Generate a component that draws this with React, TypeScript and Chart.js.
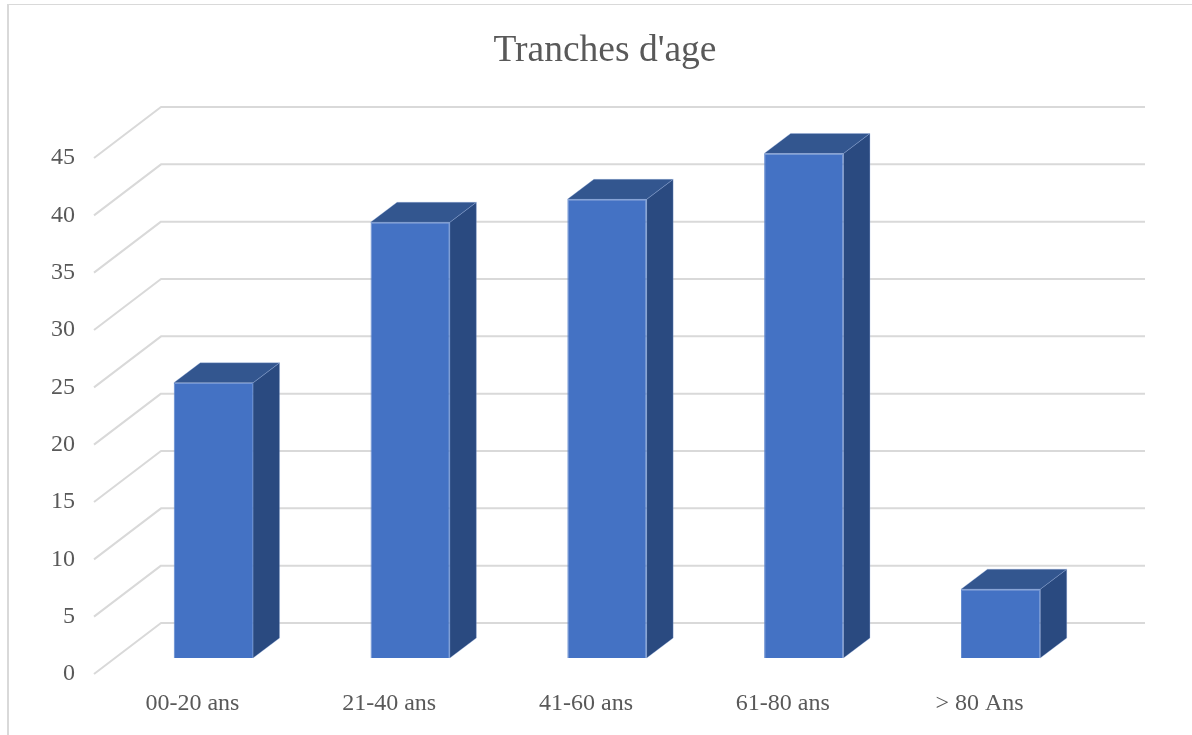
import React, { useEffect, useRef } from "react";
import { Chart, registerables } from "chart.js";

Chart.register(...registerables);

const categories = ["00-20 ans", "21-40 ans", "41-60 ans", "61-80 ans", "> 80 Ans"];
const counts = [24, 38, 40, 44, 6];
const titleText = "Tranches d'age";

const FONT = "'Liberation Serif', 'Times New Roman', serif";
const GRID = "#d9d9d9";
const INK = "#595959";
const FACE = "#4472c4";
const FACE_EDGE = "#5f87ce";
const SIDE = "#2a4a80";
const TOP = "#33568f";

// Oblique projection of the box the chart sits in: floor depth, then where
// the bars stand on that floor, then how deep each bar is.
const WALL_DX = 67;
const WALL_DY = -51;
const BAR_DX = 21;
const BAR_DY = -16;
const DEPTH_DX = 26.5;
const DEPTH_DY = -20;

const obliqueBox = {
  id: "obliqueBox",
  beforeDatasetsDraw(chart: any) {
    const { ctx, chartArea, scales } = chart;
    ctx.save();
    ctx.strokeStyle = GRID;
    ctx.lineWidth = 2;
    ctx.lineJoin = "round";
    for (const tick of scales.y.ticks) {
      const y = scales.y.getPixelForValue(tick.value);
      ctx.beginPath();
      ctx.moveTo(chartArea.left, y);
      ctx.lineTo(chartArea.left + WALL_DX, y + WALL_DY);
      ctx.lineTo(chartArea.right + WALL_DX, y + WALL_DY);
      ctx.stroke();
    }
    ctx.restore();
  },
  beforeDatasetDraw(chart: any, args: any) {
    const { ctx } = chart;
    ctx.save();
    ctx.translate(BAR_DX, BAR_DY);
    const quad = (pts: number[][], fill: string) => {
      ctx.beginPath();
      pts.forEach(([x, y], i) => (i ? ctx.lineTo(x, y) : ctx.moveTo(x, y)));
      ctx.closePath();
      ctx.fillStyle = fill;
      ctx.fill();
      ctx.strokeStyle = "rgba(150,175,225,0.3)";
      ctx.lineWidth = 1;
      ctx.stroke();
    };
    for (const bar of args.meta.data) {
      const { x, y, base, width } = bar.getProps(["x", "y", "base", "width"], true);
      const l = x - width / 2;
      const r = x + width / 2;
      quad(
        [
          [r, y],
          [r + DEPTH_DX, y + DEPTH_DY],
          [r + DEPTH_DX, base + DEPTH_DY],
          [r, base],
        ],
        SIDE,
      );
      quad(
        [
          [l, y],
          [l + DEPTH_DX, y + DEPTH_DY],
          [r + DEPTH_DX, y + DEPTH_DY],
          [r, y],
        ],
        TOP,
      );
    }
  },
  afterDatasetDraw(chart: any) {
    chart.ctx.restore();
  },
};

export default function App() {
  const ref = useRef<HTMLCanvasElement>(null);

  useEffect(() => {
    document.body.style.margin = "0";
    const chart = new Chart(ref.current as HTMLCanvasElement, {
      type: "bar",
      data: {
        labels: categories,
        datasets: [
          {
            data: counts,
            backgroundColor: FACE,
            borderColor: FACE_EDGE,
            borderWidth: 1,
            barPercentage: 0.403,
            categoryPercentage: 1,
            clip: false,
          } as any,
        ],
      },
      plugins: [obliqueBox],
      options: {
        animation: false,
        responsive: false,
        plugins: {
          legend: { display: false },
          tooltip: { enabled: false },
          title: {
            display: true,
            text: titleText,
            color: INK,
            font: { family: FONT, size: 37.5, weight: "normal" },
            padding: { top: 29, bottom: 84 },
          },
        },
        scales: {
          x: {
            grid: { display: false, drawTicks: false },
            border: { display: false },
            ticks: {
              color: INK,
              padding: 15,
              maxRotation: 0,
              font: { family: FONT, size: 24 },
            },
            afterFit(scale: any) {
              scale.height = 61;
            },
          },
          y: {
            min: 0,
            max: 45,
            grid: { display: false, drawTicks: false },
            border: { display: false },
            ticks: {
              stepSize: 5,
              color: INK,
              padding: 19,
              font: { family: FONT, size: 24 },
            },
            afterFit(scale: any) {
              scale.width = 94;
            },
          },
          // Empty right-hand gutter: holds room for the back wall's overhang
          // while the title stays centred on the full canvas.
          gutter: {
            axis: "y",
            position: "right",
            min: 0,
            max: 45,
            grid: { display: false, drawTicks: false },
            border: { display: false },
            ticks: { display: false },
            afterFit(scale: any) {
              scale.width = 132;
            },
          },
        },
      },
    });
    return () => chart.destroy();
  }, []);

  return (
    <div style={{ position: "fixed", inset: 0, overflow: "hidden", background: "#fff" }}>
      <canvas
        ref={ref}
        width={1210}
        height={735}
        style={{ position: "absolute", left: 0, top: 0, width: 1210, height: 735 }}
      />
      <div
        style={{
          position: "absolute",
          left: 7,
          top: 4,
          right: 0,
          bottom: 0,
          borderLeft: `2px solid ${GRID}`,
          borderTop: `1px solid ${GRID}`,
          pointerEvents: "none",
        }}
      />
    </div>
  );
}
